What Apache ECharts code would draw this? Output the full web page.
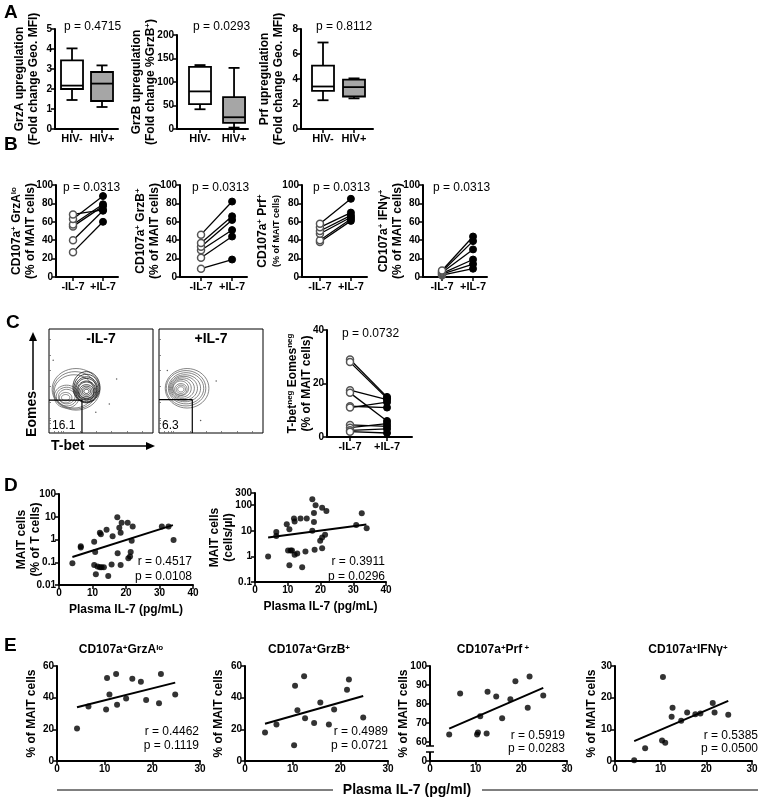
<!DOCTYPE html>
<html>
<head>
<meta charset="utf-8">
<script src="https://cdn.jsdelivr.net/npm/echarts@6/dist/echarts.min.js"></script>
<style>
  html, body { margin: 0; padding: 0; background: #fff; }
  #main { width: 761px; height: 800px; }
</style>
</head>
<body>
<div id="main"></div>
<script>
// ---------- data ----------
const hivLabels = ['HIV-', 'HIV+'];
const il7Labels = ['-IL-7', '+IL-7'];

// A: box stats [min, q1, median, q3, max]
const grzaNeg = [1.45, 2.0, 2.17, 3.43, 4.03];
const grzaPos = [1.1, 1.4, 2.27, 2.85, 3.18];
const grzbNeg = [42, 53, 80, 132, 136];
const grzbPos = [3, 13, 25, 68, 130];
const prfNeg = [2.3, 3.05, 3.4, 5.07, 6.92];
const prfPos = [2.45, 2.6, 3.35, 3.95, 4.05];

// B: paired -IL-7 / +IL-7
const grzaLoPre = [27, 40, 55, 57, 63, 68];
const grzaLoPost = [60, 72, 77, 79, 88, 73];
const grzbPre = [9, 21, 29, 33, 37, 46];
const grzbPost = [19, 44, 51, 62, 66, 82];
const prfPre = [38, 40, 47, 50, 54, 58];
const prfPost = [61, 63, 65, 67, 70, 85];
const ifngPre = [2, 3, 4, 5, 6, 7];
const ifngPost = [9, 14, 19, 30, 39, 44];

// C: T-bet neg Eomes neg
const dnPre = [29, 28, 17.5, 16.5, 11.5, 11, 4.5, 3.5, 2.5, 2];
const dnPost = [15, 14.5, 14, 6, 11, 13, 4, 5, 3, 1.5];
const dnGateMinus = [31.7, 31.7];
const dnGatePlus = [32, 32];
// contour rings [cx, cy, rx, ry, dark]
const ringsMinus = [
  [26, 42, 23, 20, 0], [25, 41, 21, 18, 0], [24, 40, 19, 16, 0],
  [17, 35, 12, 11, 0], [17, 35, 10, 9, 0], [17, 35, 8, 7, 0], [16, 34, 6, 5, 0], [16, 34, 4, 3, 0],
  [36, 44, 13, 15, 1], [36, 43, 12, 13.5, 1], [36, 42, 11, 12, 1], [36, 42, 10, 10.5, 1],
  [36, 41, 9, 9, 1], [36, 41, 8, 8, 1], [36, 40, 7, 6.5, 1], [36, 40, 5.5, 5, 1],
  [36, 40, 4, 3.5, 1], [36, 40, 2.5, 2, 1]
];
const ringsPlus = [
  [27, 43, 21, 19, 0], [26, 43, 19, 17, 0], [26, 43, 17, 15, 0], [25, 43, 15, 13, 0],
  [24, 43, 13, 11.5, 0], [23, 43, 11, 10, 0], [22, 43, 9, 8.5, 0], [21, 43, 7.5, 7, 0],
  [21, 42, 6, 5.5, 0], [21, 42, 4.5, 4, 0], [21, 42, 3, 2.5, 0]
];
const dotsMinus = [[65, 52], [4, 70], [45, 20], [58, 28]];
const dotsPlus = [[8, 60], [40, 12], [55, 50]];

// D: plasma IL-7 vs MAIT
const d1X = [4, 6.5, 6.5, 10.5, 10.8, 10.5, 11, 11.5, 12.2, 12.7, 13.4, 12.2, 12.5, 14.2, 14.7, 15.7,
  16, 17.4, 17.5, 18, 18.4, 18.7, 18.4, 20.5, 20.7, 21.2, 21.4, 21.7, 22, 30.7, 32.7, 34.2];
const d1Y = [0.09, 0.5, 0.45, 0.8, 0.28, 0.075, 0.03, 0.065, 0.06, 0.06, 0.06, 2.0, 1.7, 2.7, 0.025, 0.08,
  1.4, 9.5, 0.25, 3.3, 2.0, 5.5, 0.075, 5.5, 0.15, 0.18, 0.28, 0.88, 3.7, 3.7, 3.7, 0.95];
const d1Fit = [[4, 0.17], [34, 4.3]];
const d2X = [4, 6.5, 6.5, 9.7, 10.5, 10.1, 10.9, 11.3, 10.5, 11.9, 12.1, 12.1, 12.9, 13.9, 15.8, 14.4,
  15.4, 17.5, 18.5, 18, 18, 17.5, 18.2, 20.5, 21.8, 19.9, 20.5, 21.4, 20.5, 32.6, 30.9, 34.1];
const d2Y = [1.0, 9, 6.3, 18, 11.5, 1.7, 1.7, 1.7, 0.45, 30, 23, 1.15, 1.3, 30, 30, 0.38,
  1.55, 170, 100, 50, 22, 10, 1.8, 80, 60, 4.1, 5.5, 7, 2.1, 49, 17, 12.6];
const d2Fit = [[4, 5.5], [34, 17.5]];

// E: plasma IL-7 vs degranulating MAIT subsets
const eIL7 = [4.2, 6.6, 10.3, 10.5, 11, 12.4, 12.6, 14.5, 15.8, 17.6, 18.7, 21.4, 21.8, 24.8];
const eGrzA = [20.5, 34.5, 32.5, 52.5, 42, 55, 35.5, 39.5, 52, 50, 38.5, 36.5, 55, 42];
const eGrzB = [18, 23, 10, 47.5, 32, 53.5, 27, 24, 37, 23, 32.5, 45, 51.5, 27.5];
const ePrf = [64, 85.5, 64, 65, 73.5, 64.5, 86.5, 84, 72.5, 82.5, 92, 78, 94.5, 84.5];
const eIfng = [0.2, 4, 6.5, 26.5, 5.8, 14, 16.8, 12.7, 15.3, 14.8, 15, 18.3, 15.3, 14.6];
const eGrzAFit = [[4.2, 34], [24.8, 49.5]];
const eGrzBFit = [[4.2, 23.5], [24.8, 41]];
const ePrfFit = [[4.2, 67], [24.8, 88.5]];
const eIfngFit = [[4.2, 6.3], [24.8, 19]];

// ---------- helpers ----------
const FONT = '"Liberation Sans", Arial, sans-serif';
const RICH = {
  s: { fontSize: 8, fontWeight: 'bold', fontFamily: FONT, color: '#000', verticalAlign: 'top' },
  m: { fontSize: 9, fontWeight: 'bold', fontFamily: FONT, color: '#000' }
};
const grids = [], xAxes = [], yAxes = [], series = [], graphics = [];

function ax(o) {
  const base = {
    nameMoveOverlap: false,
    axisLine: { show: true, onZero: false, lineStyle: { color: '#000', width: 2 } },
    axisTick: { show: true, length: 4, lineStyle: { color: '#000', width: 1.5 } },
    axisLabel: { color: '#000', fontFamily: FONT, fontWeight: 'bold', fontSize: 10, margin: 3 },
    splitLine: { show: false },
    nameTextStyle: { color: '#000', fontFamily: FONT, fontWeight: 'bold', fontSize: 12, lineHeight: 14, rich: RICH }
  };
  for (const k in o) {
    if (base[k] && typeof o[k] === 'object' && !Array.isArray(o[k])) base[k] = Object.assign({}, base[k], o[k]);
    else base[k] = o[k];
  }
  return base;
}
function catX(min, max, labels) {
  return ax({ type: 'value', min: min, max: max,
    axisLabel: { customValues: [1, 2], formatter: v => labels[Math.round(v) - 1], fontSize: 11, margin: 4 },
    axisTick: { customValues: [1, 2] } });
}
function valY(min, max, interval, name, gap) {
  return ax({ type: 'value', min: min, max: max, interval: interval, name: name,
    nameLocation: 'middle', nameGap: gap });
}
function addGrid(g, xa, ya) {
  const i = grids.length;
  grids.push(Object.assign({ containLabel: false }, g));
  xAxes.push(Object.assign({ gridIndex: i }, xa));
  yAxes.push(Object.assign({ gridIndex: i }, ya));
  return i;
}
function lineStyle() { return { stroke: '#000', lineWidth: 1.8 }; }
function renderBox(params, api) {
  const x = api.value(0);
  const p = [1, 2, 3, 4, 5].map(i => api.coord([x, api.value(i)]));
  const cx = p[0][0], hw = 11, cw = 5.5;
  return { type: 'group', children: [
    { type: 'line', shape: { x1: cx, y1: p[0][1], x2: cx, y2: p[1][1] }, style: lineStyle() },
    { type: 'line', shape: { x1: cx, y1: p[3][1], x2: cx, y2: p[4][1] }, style: lineStyle() },
    { type: 'line', shape: { x1: cx - cw, y1: p[0][1], x2: cx + cw, y2: p[0][1] }, style: lineStyle() },
    { type: 'line', shape: { x1: cx - cw, y1: p[4][1], x2: cx + cw, y2: p[4][1] }, style: lineStyle() },
    { type: 'rect', shape: { x: cx - hw, y: p[3][1], width: 2 * hw, height: p[1][1] - p[3][1] },
      style: { fill: api.value(6) ? '#a6a6a6' : '#fff', stroke: '#000', lineWidth: 1.8 } },
    { type: 'line', shape: { x1: cx - hw, y1: p[2][1], x2: cx + hw, y2: p[2][1] }, style: lineStyle() }
  ] };
}
function boxSeries(gi, neg, pos) {
  series.push({ type: 'custom', xAxisIndex: gi, yAxisIndex: gi, renderItem: renderBox,
    encode: { x: 0, y: [1, 2, 3, 4, 5] }, z: 3,
    data: [[1].concat(neg, [0]), [2].concat(pos, [1])] });
}
function pairSeries(gi, pre, post) {
  pre.forEach((v, i) => series.push({
    type: 'line', xAxisIndex: gi, yAxisIndex: gi, symbol: 'circle', symbolSize: 7, z: 3,
    lineStyle: { color: '#000', width: 1.3 },
    data: [
      { value: [1, v], itemStyle: { color: '#fff', borderColor: '#555', borderWidth: 1.5 } },
      { value: [2, post[i]], itemStyle: { color: '#000', borderColor: '#000', borderWidth: 1 } }
    ]
  }));
}
function scatterSeries(gi, xs, ys) {
  series.push({ type: 'scatter', xAxisIndex: gi, yAxisIndex: gi, symbolSize: 6,
    itemStyle: { color: '#000' }, data: xs.map((x, i) => [x, ys[i]]) });
}
function fitSeries(gi, ends) {
  series.push({ type: 'line', xAxisIndex: gi, yAxisIndex: gi, symbol: 'none',
    lineStyle: { color: '#000', width: 2 }, data: ends });
}
function renderRing(params, api) {
  const c = api.coord([api.value(0), api.value(1)]);
  const s = api.size([api.value(2), api.value(3)]);
  const pts = [];
  for (let k = 0; k < 40; k++) {
    const t = k / 40 * 2 * Math.PI;
    pts.push([c[0] + s[0] * Math.cos(t), c[1] + s[1] * Math.sin(t)]);
  }
  return { type: 'polygon', shape: { points: pts },
    style: { fill: 'none', stroke: api.value(4) ? '#1a1a1a' : '#666', lineWidth: 0.8 } };
}
function txt(x, y, text, o) {
  const st = Object.assign({ text: text, fill: '#000', fontFamily: FONT, fontSize: 12, fontWeight: 'normal',
    textAlign: 'left', align: 'left', textVerticalAlign: 'middle', verticalAlign: 'middle', rich: RICH }, o || {});
  if (st.textAlign !== st.align) st.align = st.textAlign;
  graphics.push({ type: 'text', x: x, y: y, z: 100, style: st });
}
function seg(x1, y1, x2, y2, w) {
  graphics.push({ type: 'line', z: 100, shape: { x1: x1, y1: y1, x2: x2, y2: y2 },
    style: { stroke: '#000', lineWidth: w || 1.5 } });
}

// ---------- panel A ----------
const gA1 = addGrid({ left: 55, top: 29, width: 63, height: 100 }, catX(0.433, 2.533, hivLabels),
  valY(0, 5, 1, 'GrzA upregulation\n(Fold change Geo. MFI)', 14));
const gA2 = addGrid({ left: 177, top: 35, width: 71, height: 94 }, catX(0.324, 2.41, hivLabels),
  valY(0, 200, 50, 'GrzB upregulation\n(Fold change %GrzB{s|+})', 19));
const gA3 = addGrid({ left: 301, top: 29, width: 72, height: 100 }, catX(0.29, 2.613, hivLabels),
  valY(0, 8, 2, 'Prf upregulation\n(Fold change Geo. MFI)', 15));
boxSeries(gA1, grzaNeg, grzaPos);
boxSeries(gA2, grzbNeg, grzbPos);
boxSeries(gA3, prfNeg, prfPos);
txt(64, 27, 'p = 0.4715');
txt(193, 27, 'p = 0.0293');
txt(316, 27, 'p = 0.8112');

// ---------- panel B ----------
const bTop = 185, bH = 92;
const gB1 = addGrid({ left: 56, top: bTop, width: 62, height: bH }, catX(0.433, 2.5, il7Labels),
  valY(0, 100, 20, 'CD107a{s|+} GrzA{s|lo}\n(% of MAIT cells)', 18));
const gB2 = addGrid({ left: 180, top: bTop, width: 67, height: bH }, catX(0.323, 2.48, il7Labels),
  valY(0, 100, 20, 'CD107a{s|+} GrzB{s|+}\n(% of MAIT cells)', 18));
const gB3 = addGrid({ left: 302, top: bTop, width: 65, height: bH }, catX(0.42, 2.52, il7Labels),
  valY(0, 100, 20, 'CD107a{s|+} Prf{s|+}\n{m|(% of MAIT cells)}', 18));
const gB4 = addGrid({ left: 423, top: bTop, width: 64, height: bH }, catX(0.387, 2.45, il7Labels),
  valY(0, 100, 20, 'CD107a{s|+} IFNγ{s|+}\n(% of MAIT cells)', 18));
pairSeries(gB1, grzaLoPre, grzaLoPost);
pairSeries(gB2, grzbPre, grzbPost);
pairSeries(gB3, prfPre, prfPost);
pairSeries(gB4, ifngPre, ifngPost);
txt(63, 188, 'p = 0.0313');
txt(192, 188, 'p = 0.0313');
txt(313, 188, 'p = 0.0313');
txt(433, 188, 'p = 0.0313');

// ---------- panel C ----------
function flowGrid(left) {
  return addGrid({ left: left, top: 329, width: 104, height: 104, show: true, borderColor: '#000', borderWidth: 1 },
    { type: 'value', min: 0, max: 100, axisLine: { show: false }, axisLabel: { show: false }, splitLine: { show: false },
      axisTick: { show: true, inside: true, length: 2, customValues: [5, 9, 12, 14, 30, 45, 60, 75, 90], lineStyle: { color: '#666', width: 0.8 } } },
    { type: 'value', min: 0, max: 100, axisLine: { show: false }, axisLabel: { show: false }, splitLine: { show: false },
      axisTick: { show: true, inside: true, length: 2, customValues: [5, 9, 12, 14, 30, 45, 60, 75, 90], lineStyle: { color: '#666', width: 0.8 } } });
}
const gF1 = flowGrid(49), gF2 = flowGrid(159);
[[gF1, ringsMinus, dotsMinus, dnGateMinus], [gF2, ringsPlus, dotsPlus, dnGatePlus]].forEach(([gi, rings, dots, gate]) => {
  series.push({ type: 'custom', xAxisIndex: gi, yAxisIndex: gi, renderItem: renderRing, encode: { x: 0, y: 1 }, data: rings, z: 2 });
  series.push({ type: 'scatter', xAxisIndex: gi, yAxisIndex: gi, symbolSize: 1.5, itemStyle: { color: '#333' }, data: dots });
  series.push({ type: 'line', xAxisIndex: gi, yAxisIndex: gi, symbol: 'none', z: 4,
    lineStyle: { color: '#000', width: 1.2 }, data: [[0, gate[1]], [gate[0], gate[1]], [gate[0], 0]] });
});
txt(101, 339, '-IL-7', { fontWeight: 'bold', fontSize: 14, textAlign: 'center' });
txt(211, 339, '+IL-7', { fontWeight: 'bold', fontSize: 14, textAlign: 'center' });
txt(52, 426, '16.1', { fontSize: 12 });
txt(162, 426, '6.3', { fontSize: 12 });
graphics.push({ type: 'text', x: 32, y: 414, rotation: Math.PI / 2, z: 100,
  style: { text: 'Eomes', fill: '#000', fontFamily: FONT, fontSize: 14, fontWeight: 'bold',
    textAlign: 'center', align: 'center', textVerticalAlign: 'middle', verticalAlign: 'middle' } });
seg(33, 390, 33, 340, 1.5);
graphics.push({ type: 'polygon', z: 100, shape: { points: [[29, 341], [37, 341], [33, 332]] }, style: { fill: '#000' } });
txt(51, 446, 'T-bet', { fontWeight: 'bold', fontSize: 14 });
seg(89, 446, 147, 446, 1.5);
graphics.push({ type: 'polygon', z: 100, shape: { points: [[146, 442], [146, 450], [155, 446]] }, style: { fill: '#000' } });

const gC = addGrid({ left: 327, top: 330, width: 85, height: 107 }, catX(0.378, 2.675, il7Labels),
  valY(0, 40, 20, 'T-bet{s|neg} Eomes{s|neg}\n(% of MAIT cells)', 13));
pairSeries(gC, dnPre, dnPost);
txt(342, 334, 'p = 0.0732');

// ---------- panel D ----------
const xIL7 = (max) => ax({ type: 'value', min: 0, max: max, interval: 10, name: 'Plasma IL-7 (pg/mL)',
  nameLocation: 'middle', nameGap: 18 });
const gD1 = addGrid({ left: 59, top: 494, width: 134, height: 91 }, xIL7(40),
  ax({ type: 'log', logBase: 10, min: 0.01, max: 100, name: 'MAIT cells\n(% of T cells)', nameLocation: 'middle', nameGap: 16,
    axisLabel: { formatter: v => String(v) } }));
const gD2 = addGrid({ left: 255, top: 493, width: 131, height: 89 }, xIL7(40),
  ax({ type: 'log', logBase: 10, min: 0.1, max: 300, name: 'MAIT cells\n(cells/µl)', nameLocation: 'middle', nameGap: 19,
    axisLabel: { customValues: [0.1, 1, 10, 100, 300], formatter: v => String(v) },
    axisTick: { customValues: [0.1, 1, 10, 100, 300] } }));
scatterSeries(gD1, d1X, d1Y);
fitSeries(gD1, d1Fit);
scatterSeries(gD2, d2X, d2Y);
fitSeries(gD2, d2Fit);
txt(192, 562, 'r = 0.4517', { textAlign: 'right' });
txt(192, 577, 'p = 0.0108', { textAlign: 'right' });
txt(385, 562, 'r = 0.3911', { textAlign: 'right' });
txt(385, 577, 'p = 0.0296', { textAlign: 'right' });

// ---------- panel E ----------
const eTop = 666, eH = 95;
const xE = () => ax({ type: 'value', min: 0, max: 30, interval: 10 });
const gE1 = addGrid({ left: 57, top: eTop, width: 143, height: eH }, xE(), valY(0, 60, 20, '% of MAIT cells', 18));
const gE2 = addGrid({ left: 245, top: eTop, width: 143, height: eH }, xE(), valY(0, 60, 20, '% of MAIT cells', 19));
const gE3 = addGrid({ left: 430, top: eTop, width: 137, height: eH }, xE(),
  ax({ type: 'value', min: 50, max: 100, interval: 10, name: '% of MAIT cells', nameLocation: 'middle', nameGap: 19,
    axisLabel: { formatter: v => (v === 50 ? '0' : String(v)) } }));
const gE4 = addGrid({ left: 615, top: eTop, width: 137, height: eH }, xE(), valY(0, 30, 10, '% of MAIT cells', 16));
scatterSeries(gE1, eIL7, eGrzA); fitSeries(gE1, eGrzAFit);
scatterSeries(gE2, eIL7, eGrzB); fitSeries(gE2, eGrzBFit);
scatterSeries(gE3, eIL7, ePrf); fitSeries(gE3, ePrfFit);
scatterSeries(gE4, eIL7, eIfng); fitSeries(gE4, eIfngFit);
const eTitle = { fontWeight: 'bold', fontSize: 12, textAlign: 'center' };
txt(121, 650, 'CD107a{s|+}GrzA{s|lo}', eTitle);
txt(309, 650, 'CD107a{s|+}GrzB{s|+}', eTitle);
txt(493, 650, 'CD107a{s|+}Prf{s| +}', eTitle);
txt(688, 650, 'CD107a{s|+}IFNγ{s|+}', eTitle);
txt(199, 732, 'r = 0.4462', { textAlign: 'right' });
txt(199, 746, 'p = 0.1119', { textAlign: 'right' });
txt(388, 732, 'r = 0.4989', { textAlign: 'right' });
txt(388, 746, 'p = 0.0721', { textAlign: 'right' });
txt(565, 736, 'r = 0.5919', { textAlign: 'right' });
txt(565, 749, 'p = 0.0283', { textAlign: 'right' });
txt(758, 736, 'r = 0.5385', { textAlign: 'right' });
txt(758, 749, 'p = 0.0500', { textAlign: 'right' });
// broken axis mark on the Prf scale
graphics.push({ type: 'rect', z: 100, shape: { x: 426, y: 746, width: 8, height: 6 }, style: { fill: '#fff' } });
seg(426, 746, 434, 746, 1.5);
seg(426, 752, 434, 752, 1.5);
// shared x title
seg(57, 790, 333, 790, 1);
seg(482, 790, 758, 790, 1);
txt(407, 790, 'Plasma IL-7 (pg/ml)', { fontWeight: 'bold', fontSize: 14, textAlign: 'center' });

// ---------- panel letters ----------
[['A', 4, 13], ['B', 4, 145], ['C', 6, 323], ['D', 4, 486], ['E', 4, 646]].forEach(([l, x, y]) =>
  txt(x, y, l, { fontWeight: 'bold', fontSize: 19 }));

const chart = echarts.init(document.getElementById('main'), null, { renderer: 'canvas' });
chart.setOption({
  animation: false,
  backgroundColor: '#fff',
  grid: grids,
  xAxis: xAxes,
  yAxis: yAxes,
  series: series,
  graphic: { elements: graphics }
});
</script>
</body>
</html>
